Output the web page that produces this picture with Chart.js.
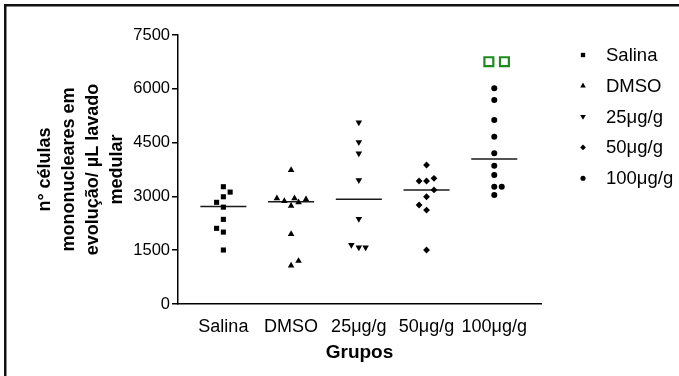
<!DOCTYPE html>
<html>
<head>
<meta charset="utf-8">
<script src="https://cdn.jsdelivr.net/npm/chart.js@4.4.0/dist/chart.umd.min.js"></script>
<style>
  html, body { margin: 0; padding: 0; background: #fff; }
</style>
</head>
<body>
<canvas id="scatterChart" width="679" height="376"></canvas>
<script>
const groups = ['Salina', 'DMSO', '25μg/g', '50μg/g', '100μg/g'];
const yTicks = [0, 1500, 3000, 4500, 6000, 7500];

// valores individuais
const salina = [3270, 3120, 2990, 2835, 2700, 2360, 2110, 2005, 1505];
const dmso = [3735, 2945, 2870, 2740, 2945, 2835, 2920, 1950, 1070, 1200];
const dose25 = [5065, 4510, 4200, 3455, 2370, 1645, 1580, 1580];
const dose50 = [3875, 3430, 3430, 3505, 3180, 2990, 2760, 2620, 1505];
const dose100 = [6015, 5690, 5130, 4665, 4200, 3855, 3595, 3270, 3270, 3040];

// deslocamento horizontal de cada ponto (em colunas)
const salinaJit = [0, 0.1, 0, -0.1, 0, 0, -0.1, 0, 0];
const dmsoJit = [0, -0.21, -0.1, 0, 0.05, 0.11, 0.22, 0, 0, 0.11];
const dose25Jit = [0, 0, 0, 0, 0, -0.11, 0, 0.1];
const dose50Jit = [0, -0.11, 0, 0.11, 0.11, 0, -0.11, 0, 0];
const dose100Jit = [0, 0, 0, 0, 0, 0, 0, 0, 0.11, 0];

// medias
const medias = [2715, 2850, 2920, 3180, 4045];

// quadrados verdes
const sigValues = [6755, 6755];
const sigX = [3.92, 4.15];

const FONT = '"Liberation Sans", Arial, sans-serif';
Chart.defaults.font.family = FONT;
Chart.defaults.color = '#000';

const series = [salina, dmso, dose25, dose50, dose100];
const jitters = [salinaJit, dmsoJit, dose25Jit, dose50Jit, dose100Jit];
const markers = [
  {style: 'rect', r: 3.6, rot: 0},
  {style: 'triangle', r: 3.8, rot: 0},
  {style: 'triangle', r: 3.8, rot: 180},
  {style: 'rectRot', r: 3.4, rot: 0},
  {style: 'circle', r: 3, rot: 0}
];

const datasets = series.map((vals, g) => ({
  type: 'scatter',
  label: groups[g],
  data: vals.map((v, k) => ({x: g + jitters[g][k], y: v})),
  pointStyle: markers[g].style,
  pointRadius: markers[g].r,
  pointRotation: markers[g].rot,
  backgroundColor: '#000',
  borderColor: '#000',
  borderWidth: 0
}));

medias.forEach((m, g) => {
  datasets.push({
    type: 'line',
    label: 'media',
    data: [{x: g - 0.34, y: m}, {x: g + 0.34, y: m}],
    borderColor: '#1a1a1a',
    borderWidth: 1.5,
    pointRadius: 0,
    fill: false
  });
});

datasets.push({
  type: 'scatter',
  label: 'sig',
  data: sigX.map((x, k) => ({x: x, y: sigValues[k]})),
  pointStyle: 'rect',
  pointRadius: 6.3,
  backgroundColor: 'rgba(0,0,0,0)',
  borderColor: '#1f8a1f',
  borderWidth: 2.2
});

const framePlugin = {
  id: 'frame',
  beforeDraw(chart) {
    const ctx = chart.ctx;
    ctx.save();
    ctx.fillStyle = '#fff';
    ctx.fillRect(0, 0, chart.width, chart.height);
    ctx.restore();
  },
  afterDraw(chart) {
    const ctx = chart.ctx;
    ctx.save();
    ctx.fillStyle = '#111';
    ctx.fillRect(4, 4, 2.5, chart.height);
    ctx.fillRect(4, 4, chart.width, 2.5);
    ctx.restore();
  }
};

const legendPlugin = {
  id: 'sideLegend',
  afterDraw(chart) {
    const ctx = chart.ctx;
    ctx.save();
    ctx.font = '18.5px ' + FONT;
    ctx.textBaseline = 'middle';
    ctx.fillStyle = '#000';
    groups.forEach((name, i) => {
      const ds = chart.data.datasets[i];
      const y = 55 + i * 30.8;
      Chart.helpers.drawPoint(ctx, {
        pointStyle: ds.pointStyle,
        radius: ds.pointRadius * 0.85,
        rotation: ds.pointRotation,
        borderWidth: 0
      }, 583, y);
      ctx.fillText(name, 606, y + 1);
    });
    ctx.restore();
  }
};

const ctx = document.getElementById('scatterChart').getContext('2d');
const scatterChart = new Chart(ctx, {
  type: 'scatter',
  data: {datasets: datasets},
  plugins: [framePlugin, legendPlugin],
  options: {
    responsive: false,
    animation: false,
    layout: {padding: {left: 8, top: 35, right: 138, bottom: 0}},
    plugins: {
      legend: {display: false},
      tooltip: {enabled: false}
    },
    scales: {
      x: {
        type: 'linear',
        min: -0.67,
        max: 4.69,
        afterBuildTicks: axis => { axis.ticks = groups.map((g, i) => ({value: i})); },
        afterFit: axis => { axis.height = 72; },
        ticks: {
          callback: v => groups[v],
          autoSkip: false,
          maxRotation: 0,
          padding: 4,
          color: '#000',
          font: {size: 18}
        },
        grid: {display: false},
        border: {display: true, color: '#000', width: 1.5},
        title: {
          display: true,
          text: 'Grupos',
          color: '#000',
          font: {size: 19, weight: 'bold'},
          padding: {top: 4, bottom: 12}
        }
      },
      y: {
        min: 0,
        max: 7500,
        afterBuildTicks: axis => { axis.ticks = yTicks.map(v => ({value: v})); },
        afterFit: axis => { axis.width = 170; },
        ticks: {color: '#000', padding: 2, font: {size: 16.5}, callback: v => String(v)},
        grid: {drawOnChartArea: false, drawTicks: true, tickLength: 6, color: '#000', lineWidth: 1.5},
        border: {color: '#000', width: 1.5},
        title: {
          display: true,
          text: ['n° células', 'mononucleares em', 'evolução/ µL lavado', 'medular'],
          color: '#000',
          font: {size: 18, weight: 'bold', lineHeight: '24px'},
          padding: {top: 25, bottom: 0}
        }
      }
    }
  }
});
</script>
</body>
</html>
